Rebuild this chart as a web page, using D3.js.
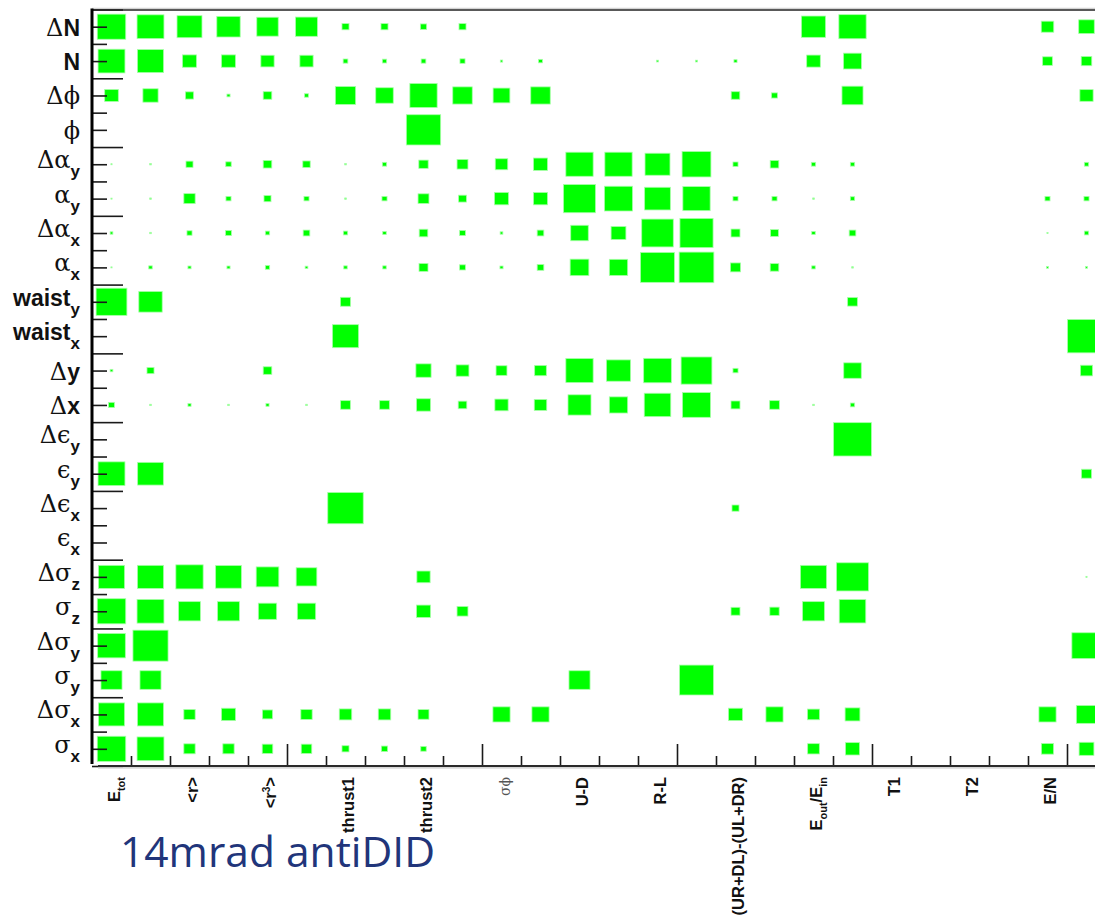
<!DOCTYPE html>
<html>
<head>
<meta charset="utf-8">
<script src="https://cdn.jsdelivr.net/npm/d3@7"></script>
<style>
  body { margin: 0; background: #fff; }
  svg { display: block; }
</style>
</head>
<body>
<div id="chart"></div>
<script>
// row labels, top to bottom ( _ = subscript )
const rowLabels = ['ΔN', 'N', 'Δϕ', 'ϕ', 'Δα_y', 'α_y', 'Δα_x', 'α_x', 'waist_y', 'waist_x',
  'Δy', 'Δx', 'Δϵ_y', 'ϵ_y', 'Δϵ_x', 'ϵ_x', 'Δσ_z', 'σ_z', 'Δσ_y', 'σ_y', 'Δσ_x', 'σ_x'];

// x labels sit on every second column ( _ = subscript, ^ = superscript )
const colLabels = ['E_tot', '<r>', '<r^3>', 'thrust1', 'thrust2', 'σϕ', 'U-D', 'R-L',
  '(UR+DL)-(UL+DR)', 'E_out/E_in', 'T1', 'T2', 'E/N'];
const labelCols = [0, 2, 4, 6, 8, 10, 12, 14, 16, 18, 20, 22, 24];

// relative box size per cell (0..1), one array per row, 26 columns
const cells = [
  [0.73,0.69,0.64,0.60,0.55,0.56,0.18,0.18,0.16,0.18,0,0,0,0,0,0,0,0,0.62,0.70,0,0,0,0,0.32,0.40], // ΔN
  [0.69,0.67,0.36,0.36,0.34,0.34,0.12,0.11,0.12,0.13,0.06,0.10,0,0,0.05,0.05,0.08,0,0.35,0.46,0,0,0,0,0.25,0.27], // N
  [0.35,0.39,0.21,0.08,0.22,0.10,0.52,0.45,0.70,0.50,0.43,0.50,0,0,0,0,0.22,0.15,0,0.54,0,0,0,0,0,0.34], // Δφ
  [0,0,0,0,0,0,0,0,0.88,0,0,0,0,0,0,0,0,0,0,0,0,0,0,0,0,0], // φ
  [0.03,0.04,0.18,0.14,0.22,0.19,0.04,0.11,0.24,0.28,0.32,0.36,0.70,0.70,0.64,0.74,0.13,0.22,0.11,0.11,0,0,0,0,0,0.11], // Δαy
  [0.03,0.04,0.29,0.13,0.18,0.13,0.04,0.13,0.28,0.20,0.36,0.36,0.82,0.72,0.66,0.70,0.13,0.13,0.04,0.11,0,0,0,0,0.13,0.13], // αy
  [0.07,0.04,0.13,0.15,0.11,0.17,0.11,0.09,0.22,0.15,0.07,0.17,0.45,0.38,0.81,0.85,0.23,0.20,0.09,0.17,0,0,0,0,0.03,0.11], // Δαx
  [0.03,0.09,0.08,0.08,0.11,0.07,0.09,0.09,0.23,0.15,0.08,0.17,0.48,0.47,0.87,0.89,0.26,0.22,0.09,0.04,0,0,0,0,0.05,0.05], // αx
  [0.79,0.60,0,0,0,0,0.26,0,0,0,0,0,0,0,0,0,0,0,0,0.25,0,0,0,0,0,0], // waist y
  [0,0,0,0,0,0,0.67,0,0,0,0,0,0,0,0,0,0,0,0,0,0,0,0,0,0,0.97], // waist x
  [0.07,0.18,0,0,0.22,0,0,0,0.39,0.33,0.28,0.30,0.70,0.62,0.71,0.79,0.13,0,0,0.45,0,0,0,0,0,0.31], // Δy
  [0.15,0.04,0.08,0.04,0.08,0.04,0.25,0.25,0.36,0.22,0.34,0.32,0.59,0.47,0.68,0.72,0.23,0.25,0.04,0.11,0,0,0,0,0,0], // Δx
  [0,0,0,0,0,0,0,0,0,0,0,0,0,0,0,0,0,0,0,0.97,0,0,0,0,0,0], // Δϵy
  [0.69,0.66,0,0,0,0,0,0,0,0,0,0,0,0,0,0,0,0,0,0,0,0,0,0,0,0.26], // ϵy
  [0,0,0,0,0,0,0.91,0,0,0,0,0,0,0,0,0,0.18,0,0,0,0,0,0,0,0,0], // Δϵx
  [0,0,0,0,0,0,0,0,0,0,0,0,0,0,0,0,0,0,0,0,0,0,0,0,0,0], // ϵx
  [0.67,0.67,0.70,0.66,0.58,0.53,0,0,0.34,0,0,0,0,0,0,0,0,0,0.67,0.82,0,0,0,0,0,0.03], // Δσz
  [0.73,0.69,0.56,0.56,0.47,0.47,0,0,0.36,0.28,0,0,0,0,0,0,0.23,0.24,0.56,0.68,0,0,0,0,0,0], // σz
  [0.71,0.90,0,0,0,0,0,0,0,0,0,0,0,0,0,0,0,0,0,0,0,0,0,0,0,0.75], // Δσy
  [0.54,0.54,0,0,0,0,0,0,0,0,0,0,0.54,0,0,0.87,0,0,0,0,0,0,0,0,0,0], // σy
  [0.67,0.67,0.29,0.36,0.26,0.29,0.32,0.32,0.28,0,0.44,0.44,0,0,0,0,0.36,0.44,0.31,0.38,0,0,0,0,0.44,0.52], // Δσx
  [0.73,0.69,0.29,0.29,0.27,0.27,0.18,0.16,0.14,0,0,0,0,0,0,0,0,0,0.30,0.36,0,0,0,0,0.31,0.38]  // σx
];

const title = '14mrad antiDID';

const W = 1095, H = 923;
const plotLeft = 92, plotTop = 9.5, plotBottom = 766, colW = 39;
const nRows = rowLabels.length, nCols = cells[0].length;

const sans = "'Liberation Sans', Arial, Helvetica, sans-serif";
const serif = "'DejaVu Serif', 'Liberation Serif', serif";

const svg = d3.select('#chart').append('svg').attr('width', W).attr('height', H);
svg.append('rect').attr('width', W).attr('height', H).attr('fill', '#fff');

// scales
const x = d3.scaleBand().domain(d3.range(nCols)).range([plotLeft, plotLeft + nCols * colW]);
const y = d3.scaleBand().domain(d3.range(nRows)).range([plotTop, plotBottom]);
const size = d3.scaleLinear().domain([0, 1]).range([0, 1]);

// boxes
const flat = [];
cells.forEach((row, r) => row.forEach((v, c) => { if (v > 0) flat.push({ r, c, v }); }));

svg.append('g').selectAll('rect')
  .data(flat)
  .enter().append('rect')
  .attr('x', d => x(d.c) + x.bandwidth() * (1 - size(d.v)) / 2)
  .attr('y', d => y(d.r) + y.bandwidth() * (1 - size(d.v)) / 2)
  .attr('width', d => x.bandwidth() * size(d.v))
  .attr('height', d => y.bandwidth() * size(d.v))
  .attr('fill', '#00ff00')
  .attr('stroke', '#a8ffa8')
  .attr('stroke-width', 0.8);

// axes: index scales used for the tick marks
const yIdx = d3.scaleLinear().domain([0, nRows]).range([plotTop, plotBottom]);
const xIdx = d3.scaleLinear().domain([0, nCols]).range([plotLeft, plotLeft + nCols * colW]);

const yMajor = d3.range(0, nRows + 1, 2);
const yMinor = d3.range(0, nRows + 0.01, 0.5).filter(v => v % 2 !== 0);
const xMajor = d3.range(5, nCols + 1, 5);
const xMinor = d3.range(1, nCols + 1).filter(v => v % 5 !== 0);

const styleAxis = g => {
  g.select('.domain').remove();
  g.selectAll('.tick line').attr('stroke', '#1a1a1a').attr('stroke-width', 1.6);
  g.selectAll('.tick text').remove();
};

svg.append('g').attr('transform', `translate(${plotLeft},0)`)
  .call(d3.axisRight(yIdx).tickValues(yMinor).tickSize(15).tickFormat('')).call(styleAxis);
svg.append('g').attr('transform', `translate(${plotLeft},0)`)
  .call(d3.axisRight(yIdx).tickValues(yMajor).tickSize(31).tickFormat('')).call(styleAxis);
svg.append('g').attr('transform', `translate(0,${plotBottom})`)
  .call(d3.axisTop(xIdx).tickValues(xMinor).tickSize(10).tickFormat('')).call(styleAxis);
svg.append('g').attr('transform', `translate(0,${plotBottom})`)
  .call(d3.axisTop(xIdx).tickValues(xMajor).tickSize(22).tickFormat('')).call(styleAxis);

// frame lines
svg.append('line').attr('x1', plotLeft).attr('x2', W).attr('y1', plotTop - 1.2).attr('y2', plotTop - 1.2)
  .attr('stroke', '#c8c8c8').attr('stroke-width', 1);
svg.append('line').attr('x1', plotLeft).attr('x2', W).attr('y1', plotTop + 0.5).attr('y2', plotTop + 0.5)
  .attr('stroke', '#222').attr('stroke-width', 1.4);
svg.append('line').attr('x1', 98).attr('x2', W).attr('y1', plotBottom + 1.8).attr('y2', plotBottom + 1.8)
  .attr('stroke', '#c8c8c8').attr('stroke-width', 1.2);
svg.append('line').attr('x1', 98).attr('x2', W).attr('y1', plotBottom).attr('y2', plotBottom)
  .attr('stroke', '#2a2a2a').attr('stroke-width', 2);
svg.append('line').attr('x1', plotLeft).attr('x2', plotLeft).attr('y1', plotTop - 1).attr('y2', plotBottom - 2)
  .attr('stroke', '#000').attr('stroke-width', 3);

// y labels: greek in serif, latin in bold sans, subscript bold and lowered
const isGreek = s => /[Δϕαϵσ]/.test(s);
rowLabels.forEach((lab, i) => {
  const parts = lab.split('_');
  const cy = y(i) + y.bandwidth() / 2;
  const t = svg.append('text')
    .attr('x', 80)
    .attr('y', cy + (parts[1] ? 4 : 9))
    .attr('text-anchor', 'end')
    .attr('fill', '#111');
  parts[0].match(/[Δϕαϵσ]+|[^Δϕαϵσ]+/g).forEach(run => {
    t.append('tspan')
      .attr('font-family', isGreek(run) ? serif : sans)
      .attr('font-weight', isGreek(run) ? 'normal' : 'bold')
      .attr('font-size', isGreek(run) ? 24 : 23)
      .text(run);
  });
  if (parts[1]) {
    t.append('tspan')
      .attr('dy', 9)
      .attr('font-family', sans)
      .attr('font-weight', 'bold')
      .attr('font-size', 17)
      .text(parts[1]);
  }
});

// x labels, rotated
colLabels.forEach((lab, i) => {
  const cx = x(labelCols[i]) + x.bandwidth() / 2;
  const t = svg.append('text')
    .attr('transform', `translate(${cx + 8},777) rotate(-90)`)
    .attr('text-anchor', 'end')
    .attr('fill', '#111');
  if (isGreek(lab)) {
    t.attr('font-family', serif).attr('font-size', 14).attr('fill', '#555').text(lab);
    return;
  }
  t.attr('font-family', sans).attr('font-weight', 'bold').attr('font-size', 16.5);
  let shift = 0;
  lab.split(/([_^][a-z0-9]+)/).filter(s => s.length).forEach(p => {
    let dy = 0, fs = 16.5, txt = p;
    if (p[0] === '_') { dy = 5; fs = 11; txt = p.slice(1); }
    else if (p[0] === '^') { dy = -6; fs = 10; txt = p.slice(1); }
    t.append('tspan').attr('dy', dy - shift).attr('font-size', fs).text(txt);
    shift = dy;
  });
});

// title
svg.append('text')
  .attr('x', 120)
  .attr('y', 867)
  .attr('font-family', "'Comic Sans MS', 'Open Sans', sans-serif")
  .attr('font-size', 42.5)
  .attr('fill', '#21357a')
  .text(title);
</script>
</body>
</html>
